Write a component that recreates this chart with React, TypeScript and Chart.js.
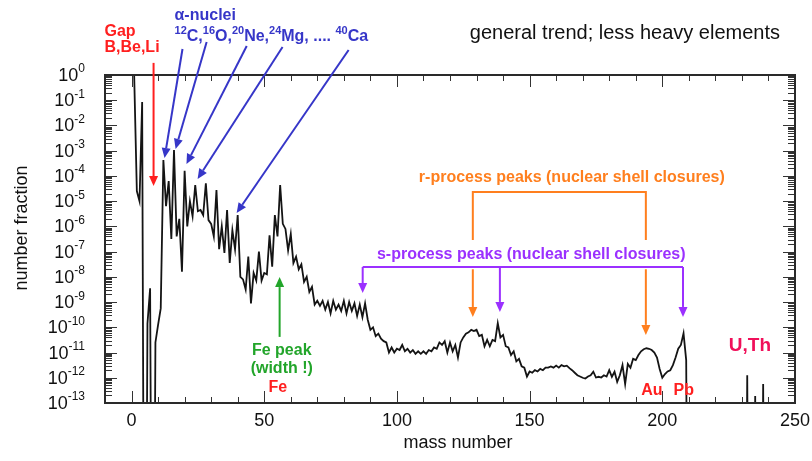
import React, { useEffect, useRef } from "react";
import { Chart, registerables } from "chart.js";

Chart.register(...registerables);

const FONT = '"Liberation Sans", Arial, Helvetica, sans-serif';

// log10 of number fraction (null = absent / below axis)
const startA_1 = 1;
const log10Fraction_1_30 = [
  -0.04, -4.6, -5.0, -1.07, null, -9.85, -8.45, null, -10.6, -9.9,
  -9.25, -3.37, -5.2, -4.2, -6.5, -2.97, -6.4, -5.7, -7.8, -3.8,
  -6.0, -5.0, -5.6, -4.36, -5.4, -5.35, -5.55, -4.29, -5.75, -5.9,
];
const startA_31 = 31;
const log10Fraction_31_90 = [
  -6.4, -4.56, -6.9, -6.0, -7.05, -5.35, -7.45, -6.15, -6.9, -5.55,
  -8.0, -8.1, -8.5, -7.2, -9.05, -7.85, -8.15, -7.0, -8.15, -7.85,
  -7.9, -6.35, -7.6, -5.55, -6.4, -4.36, -5.9, -6.1, -6.95, -6.3,
  -7.45, -7.2, -7.7, -7.5, -8.2, -8.0, -8.6, -8.4, -9.1, -8.95,
  -9.15, -8.95, -9.3, -9.0, -9.45, -8.95, -9.3, -9.1, -9.35, -8.95,
  -9.45, -9.0, -9.35, -9.05, -9.55, -9.1, -9.6, -9.05, -9.7, -10.1,
];
const startA_91 = 91;
const log10Fraction_91_150 = [
  -10.0, -10.35, -10.25, -10.45, -10.55, -10.6, -11.0, -10.8, -11.0, -10.85,
  -10.9, -10.7, -10.95, -10.85, -11.0, -10.9, -11.05, -10.95, -11.05, -10.95,
  -11.05, -10.9, -10.95, -10.8, -10.85, -10.6, -10.7, -10.55, -11.0, -10.6,
  -10.95, -10.7, -11.2, -10.6, -10.4, -10.25, -10.2, -10.1, -10.15, -10.1,
  -10.35, -10.3, -10.75, -10.5, -10.75, -10.5, -10.55, -9.84, -10.4, -10.3,
  -10.75, -10.8, -11.1, -10.95, -11.35, -11.25, -11.55, -11.6, -11.95, -11.75,
];
const startA_151 = 151;
const log10Fraction_151_209 = [
  -11.8, -11.7, -11.75, -11.65, -11.7, -11.6, -11.6, -11.55, -11.6, -11.52,
  -11.6, -11.5, -11.55, -11.52, -11.62, -11.7, -11.8, -11.9, -11.95, -12.0,
  -12.03, -11.95, -11.9, -11.76, -11.99, -11.96, -11.99, -11.9, -11.95, -11.7,
  -11.96, -11.76, -12.16, -11.9, -11.5, -12.25, -11.45, -11.6, -11.25, -11.3,
  -11.1, -10.95, -10.87, -10.83, -10.85, -10.9, -11.0, -11.2, -11.65, -12.0,
  -11.85, -11.75, -11.7, -11.5, -11.2, -10.85, -10.7, -10.24, -11.3,
];
const actinideMass = [232, 235, 238];
const actinideLog10 = [-11.9, -12.72, -12.25];
const lastMass = 240;
const ABSENT = 1e-30;

const xTickLabels = [0, 50, 100, 150, 200, 250];
const yTickExponents = [0, -1, -2, -3, -4, -5, -6, -7, -8, -9, -10, -11, -12, -13];

function buildSeries() {
  const map = new Map<number, number | null>();
  const add = (start: number, arr: (number | null)[]) =>
    arr.forEach((v, i) => map.set(start + i, v));
  add(startA_1, log10Fraction_1_30);
  add(startA_31, log10Fraction_31_90);
  add(startA_91, log10Fraction_91_150);
  add(startA_151, log10Fraction_151_209);
  actinideMass.forEach((a, i) => map.set(a, actinideLog10[i]));
  const pts: { x: number; y: number }[] = [];
  for (let a = 1; a <= lastMass; a++) {
    const v = map.get(a);
    pts.push({ x: a, y: v === undefined || v === null ? ABSENT : Math.pow(10, v) });
  }
  return pts;
}

// annotation geometry in data coordinates: [massNumber, log10(fraction)]
const gapArrow = [8.3, 0.48, 8.3, -4.4];
const alphaArrows = [
  [19.2, 1.03, 12.44, -3.29],
  [28.3, 1.31, 16.6, -2.93],
  [43.4, 1.15, 20.7, -3.53],
  [56.9, 1.11, 24.9, -4.12],
  [81.8, 0.99, 39.6, -5.47],
];
const feArrow = [55.8, -10.38, 55.8, -8.01];

const C_RED = "#ff1f1f";
const C_BLUE = "#3636c8";
const C_GREEN = "#22a52a";
const C_ORANGE = "#ff7f1e";
const C_PURPLE = "#9b30ff";
const C_PINK = "#f0105a";

type Part = { t: string; sup?: boolean };

function drawParts(ctx: CanvasRenderingContext2D, parts: Part[], x: number, y: number, size: number, supSize: number, bold: boolean, align: "left" | "center" | "right") {
  const w = (p: Part) => {
    ctx.font = `${bold ? "bold " : ""}${p.sup ? supSize : size}px ${FONT}`;
    return ctx.measureText(p.t).width;
  };
  const total = parts.reduce((s, p) => s + w(p), 0);
  let cx = align === "left" ? x : align === "center" ? x - total / 2 : x - total;
  ctx.textAlign = "left";
  ctx.textBaseline = "middle";
  for (const p of parts) {
    const pw = w(p);
    ctx.font = `${bold ? "bold " : ""}${p.sup ? supSize : size}px ${FONT}`;
    ctx.fillText(p.t, cx, p.sup ? y - size * 0.38 : y);
    cx += pw;
  }
}

function arrow(ctx: CanvasRenderingContext2D, x1: number, y1: number, x2: number, y2: number, color: string) {
  const ang = Math.atan2(y2 - y1, x2 - x1);
  const hl = 10, hw = 4.5;
  const bx = x2 - hl * Math.cos(ang), by = y2 - hl * Math.sin(ang);
  ctx.strokeStyle = color;
  ctx.fillStyle = color;
  ctx.lineWidth = 2;
  ctx.beginPath();
  ctx.moveTo(x1, y1);
  ctx.lineTo(bx, by);
  ctx.stroke();
  ctx.beginPath();
  ctx.moveTo(x2, y2);
  ctx.lineTo(bx + hw * Math.sin(ang), by - hw * Math.cos(ang));
  ctx.lineTo(bx - hw * Math.sin(ang), by + hw * Math.cos(ang));
  ctx.closePath();
  ctx.fill();
}

function poly(ctx: CanvasRenderingContext2D, pts: number[][], color: string) {
  ctx.strokeStyle = color;
  ctx.lineWidth = 2;
  ctx.beginPath();
  pts.forEach(([x, y], i) => (i ? ctx.lineTo(x, y) : ctx.moveTo(x, y)));
  ctx.stroke();
}

const overlay = {
  id: "overlay",
  afterDatasetsDraw(chart: any) {
    const { ctx, chartArea: ca, scales } = chart;
    const xs = scales.x, ys = scales.y;
    const X = (a: number) => xs.getPixelForValue(a);
    const Y = (l: number) => ys.getPixelForValue(Math.pow(10, l));
    ctx.save();

    // ticks (inward)
    ctx.strokeStyle = "#333";
    ctx.lineWidth = 1;
    ctx.beginPath();
    for (let a = xs.min; a <= xs.max; a += 10) {
      const px = Math.round(X(a)) + 0.5;
      const len = a % 50 === 0 ? 12 : 6;
      ctx.moveTo(px, ca.bottom);
      ctx.lineTo(px, ca.bottom - len);
      ctx.moveTo(px, ca.top);
      ctx.lineTo(px, ca.top + len);
    }
    for (let d = -13; d <= 0; d++) {
      for (let m = 1; m <= 9; m++) {
        const l = d + Math.log10(m);
        if (l > 0.0001) continue;
        const py = Math.round(Y(l)) + 0.5;
        const len = m === 1 ? 12 : 7;
        ctx.moveTo(ca.left, py);
        ctx.lineTo(ca.left + len, py);
        ctx.moveTo(ca.right, py);
        ctx.lineTo(ca.right - len, py);
      }
    }
    ctx.stroke();
    ctx.lineWidth = 2;
    ctx.strokeStyle = "#2a2a2a";
    ctx.strokeRect(ca.left, ca.top, ca.right - ca.left, ca.bottom - ca.top);

    // tick labels
    ctx.fillStyle = "#111";
    for (const v of xTickLabels) {
      drawParts(ctx, [{ t: String(v) }], X(v), ca.bottom + 18, 18, 12, false, "center");
    }
    for (const e of yTickExponents) {
      drawParts(ctx, [{ t: "10" }, { t: String(e), sup: true }], ca.left - 20, Y(e) + 1, 18, 12, false, "right");
    }

    // axis titles
    ctx.font = `18px ${FONT}`;
    ctx.textAlign = "center";
    ctx.textBaseline = "middle";
    ctx.fillText("mass number", (ca.left + ca.right) / 2 + 8, ca.bottom + 40);
    ctx.save();
    ctx.translate(ca.left - 83, (ca.top + ca.bottom) / 2 - 11);
    ctx.rotate(-Math.PI / 2);
    ctx.fillText("number fraction", 0, 0);
    ctx.restore();

    // annotations
    ctx.fillStyle = "#111";
    drawParts(ctx, [{ t: "general trend; less heavy elements" }], X(185.9), Y(1.66), 20, 12, false, "center");

    ctx.fillStyle = C_RED;
    drawParts(ctx, [{ t: "Gap" }], X(-10.2), Y(1.74), 16, 11, true, "left");
    drawParts(ctx, [{ t: "B,Be,Li" }], X(-10.2), Y(1.07), 16, 11, true, "left");
    arrow(ctx, X(gapArrow[0]), Y(gapArrow[1]), X(gapArrow[2]), Y(gapArrow[3]), C_RED);

    ctx.fillStyle = C_BLUE;
    drawParts(ctx, [{ t: "α-nuclei" }], X(16.2), Y(2.34), 16, 11, true, "left");
    drawParts(
      ctx,
      [
        { t: "12", sup: true }, { t: "C," },
        { t: "16", sup: true }, { t: "O," },
        { t: "20", sup: true }, { t: "Ne," },
        { t: "24", sup: true }, { t: "Mg, .... " },
        { t: "40", sup: true }, { t: "Ca" },
      ],
      X(16.2), Y(1.51), 16, 11, true, "left"
    );
    for (const a of alphaArrows) arrow(ctx, X(a[0]), Y(a[1]), X(a[2]), Y(a[3]), C_BLUE);

    ctx.fillStyle = C_GREEN;
    drawParts(ctx, [{ t: "Fe peak" }], X(56.6), Y(-10.94), 16, 11, true, "center");
    drawParts(ctx, [{ t: "(width !)" }], X(56.6), Y(-11.65), 16, 11, true, "center");
    arrow(ctx, X(feArrow[0]), Y(feArrow[1]), X(feArrow[2]), Y(feArrow[3]), C_GREEN);
    ctx.fillStyle = C_RED;
    drawParts(ctx, [{ t: "Fe" }], X(55.1), Y(-12.37), 16, 11, true, "center");
    drawParts(ctx, [{ t: "Au" }], X(196.1), Y(-12.49), 16, 11, true, "center");
    drawParts(ctx, [{ t: "Pb" }], X(208.1), Y(-12.49), 16, 11, true, "center");
    ctx.fillStyle = C_PINK;
    drawParts(ctx, [{ t: "U,Th" }], X(233), Y(-10.74), 19, 11, true, "center");

    // r-process bracket
    ctx.fillStyle = C_ORANGE;
    drawParts(ctx, [{ t: "r-process peaks (nuclear shell closures)" }], X(165.9), Y(-4.08), 16, 11, true, "center");
    poly(ctx, [[X(128.6), Y(-6.54)], [X(128.6), Y(-4.64)], [X(193.8), Y(-4.64)], [X(193.8), Y(-6.54)]], C_ORANGE);
    arrow(ctx, X(128.6), Y(-7.7), X(128.6), Y(-9.59), C_ORANGE);
    arrow(ctx, X(193.8), Y(-7.7), X(193.8), Y(-10.3), C_ORANGE);

    // s-process bracket
    ctx.fillStyle = C_PURPLE;
    drawParts(ctx, [{ t: "s-process peaks (nuclear shell closures)" }], X(150.6), Y(-7.13), 16, 11, true, "center");
    poly(ctx, [[X(87.1), Y(-7.61)], [X(207.8), Y(-7.61)]], C_PURPLE);
    arrow(ctx, X(87.1), Y(-7.61), X(87.1), Y(-8.64), C_PURPLE);
    arrow(ctx, X(138.8), Y(-7.61), X(138.8), Y(-9.39), C_PURPLE);
    arrow(ctx, X(207.8), Y(-7.61), X(207.8), Y(-9.59), C_PURPLE);

    ctx.restore();
  },
};

export default function App() {
  const ref = useRef<HTMLCanvasElement | null>(null);
  useEffect(() => {
    if (!ref.current) return;
    const chart = new Chart(ref.current, {
      type: "line",
      data: {
        datasets: [
          {
            data: buildSeries(),
            borderColor: "#141414",
            borderWidth: 1.8,
            pointRadius: 0,
            tension: 0,
            clip: 1,
          } as any,
        ],
      },
      options: {
        responsive: false,
        animation: false,
        layout: { padding: { top: 75, right: 17, left: 0, bottom: 0 } },
        plugins: { legend: { display: false }, tooltip: { enabled: false } },
        scales: {
          x: {
            type: "linear",
            min: -10,
            max: 250,
            ticks: { display: false },
            grid: { display: false },
            border: { display: false },
            afterFit: (s: any) => { s.height = 58; },
          },
          y: {
            type: "logarithmic",
            min: 1e-13,
            max: 1,
            ticks: { display: false },
            grid: { display: false },
            border: { display: false },
            afterFit: (s: any) => { s.width = 105; },
          },
        },
      } as any,
      plugins: [overlay],
    });
    return () => chart.destroy();
  }, []);
  return (
    <canvas
      ref={ref}
      width={812}
      height={461}
      style={{ position: "absolute", left: 0, top: 0, width: 812, height: 461, background: "#fff" }}
    />
  );
}
